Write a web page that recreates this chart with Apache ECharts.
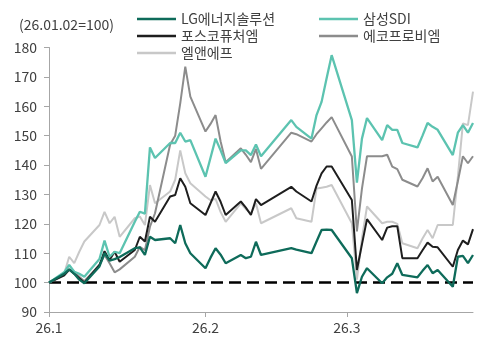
<!DOCTYPE html>
<html>
<head>
<meta charset="utf-8">
<script src="https://cdn.jsdelivr.net/npm/echarts@6/dist/echarts.min.js"></script>
<style>
  html, body { margin: 0; padding: 0; background: #fff; }
  #chart { width: 500px; height: 345px; }
</style>
</head>
<body>
<div id="chart"></div>
<script>
// 거래일 (26.01.02 = 100)
const dates = [
  "2026-01-02", "2026-01-05", "2026-01-06", "2026-01-07", "2026-01-08", "2026-01-09",
  "2026-01-12", "2026-01-13", "2026-01-14", "2026-01-15", "2026-01-16",
  "2026-01-19", "2026-01-20", "2026-01-21", "2026-01-22", "2026-01-23",
  "2026-01-26", "2026-01-27", "2026-01-28", "2026-01-29", "2026-01-30",
  "2026-02-02", "2026-02-03", "2026-02-04", "2026-02-05", "2026-02-06",
  "2026-02-09", "2026-02-10", "2026-02-11", "2026-02-12", "2026-02-13",
  "2026-02-19", "2026-02-20",
  "2026-02-23", "2026-02-24", "2026-02-25", "2026-02-26", "2026-02-27",
  "2026-03-03", "2026-03-04", "2026-03-05", "2026-03-06",
  "2026-03-09", "2026-03-10", "2026-03-11", "2026-03-12", "2026-03-13",
  "2026-03-16", "2026-03-17", "2026-03-18", "2026-03-19", "2026-03-20",
  "2026-03-23", "2026-03-24", "2026-03-25", "2026-03-26", "2026-03-27"
];

const lgES = [
  100, 103, 104.5, 103, 101, 99.8, 105.5, 110, 107.5, 108, 108.7, 111.7, 112, 109.4, 115.6, 114.5, 115.1, 113.4, 119.6, 113.4, 110,
  104.9, 108.5, 111.7, 109.5, 106.6, 109.4, 108.3, 108.8, 113.9, 109.4, 111.7, 111.2, 110, 114, 117.9, 118, 117.9,
  108.3, 96.4, 102, 104.9, 99.8, 101.8, 103, 106.6, 102.6, 101.8, 104, 106, 103.2, 104.3, 98.6, 108.8, 109.1, 106.6, 109.4
];
const samsungSDI = [
  100, 103.5, 106, 103.7, 103, 102, 108, 114.3, 108.8, 110.5, 110, 120.7, 124.1, 123.5, 146, 142.4, 147.5, 147.5, 151, 148, 148.5,
  136, 142.5, 149, 145, 140.7, 145, 145, 143.4, 147, 143, 155.3, 153, 149, 157, 161.5, 169.5, 177.4,
  155.3, 134, 149, 156, 148.5, 153.6, 152, 152, 147.5, 146, 150, 154.3, 153, 152, 143.4, 151, 153.6, 151, 154.3
];
const poscoFM = [
  100, 102.5, 104.5, 103, 101.5, 100, 106, 110.7, 107.7, 110.5, 107.1, 111.1, 115.6, 114, 122.4, 120.7, 129.3, 129.8, 135.5, 132.6, 127,
  123, 127, 131, 127.5, 123, 127.6, 125.5, 123, 128.4, 126.4, 132.6, 131, 127.6, 133, 137.2, 139.5, 139.5,
  128.1, 104.3, 113, 121.6, 114.5, 118.7, 119.2, 119.2, 108.3, 108.3, 111, 113.6, 112.2, 112, 105.4, 111.1, 114.3, 113, 118.2
];
const ecoproBM = [
  100, 102.5, 104.3, 103.7, 102, 100.5, 106, 109.4, 106.6, 103.5, 104.5, 108.8, 112.2, 111, 119, 123.6, 147, 150, 161, 173.5, 163.3,
  151.4, 154, 157, 148, 141, 145.7, 143.5, 141, 145.5, 138.7, 151, 150.5, 148, 150.5, 152.5, 154.5, 156.3,
  142.9, 117.4, 132, 143, 143, 143.5, 139.5, 138.6, 135, 132.7, 135.5, 138.9, 134.4, 136, 126.4, 134.5, 143, 140.6, 143
];
const lnf = [
  100, 103, 108.8, 106.6, 110.5, 114, 119.6, 124.1, 120.2, 122.4, 115.6, 121.9, 122.5, 119.6, 133.2, 127, 131, 135, 145, 137.2, 133.8,
  129.3, 128, 128.5, 124, 120.7, 127, 125, 123.6, 127, 120.2, 125.3, 121.9, 120.7, 132, 132.3, 132.6, 133.2,
  120.2, 101, 115, 125.9, 120.2, 120.7, 120.7, 120, 113.4, 111.7, 115, 117.9, 115.1, 119.6, 119.6, 136, 154.2, 153.6, 165
];

const baseLine = 100;
const xTickDates = ["2026-01-02", "2026-02-02", "2026-03-02"];
const xTickLabels = ["26.1", "26.2", "26.3"];
const xEndDate = "2026-03-27";
const yTicks = [90, 100, 110, 120, 130, 140, 150, 160, 170, 180];

// 날짜 -> 기준일로부터 일수
const day0 = Date.parse(dates[0]);
const toDay = (d) => Math.round((Date.parse(d) - day0) / 86400000);
const xs = dates.map(toDay);
const tickDays = xTickDates.map(toDay);
const pairs = (vals) => vals.map((v, i) => [xs[i], v]);

const FONT = "'Noto Sans CJK KR', 'Noto Sans', sans-serif";
const TXT = "#404040";

const chart = echarts.init(document.getElementById("chart"));

function line(name, vals, color, width) {
  return {
    name: name,
    type: "line",
    data: pairs(vals),
    symbol: "none",
    lineStyle: { color: color, width: width },
    itemStyle: { color: color },
  };
}

chart.setOption({
  animation: false,
  title: {
    text: "(26.01.02=100)",
    left: 19,
    top: 18,
    padding: 0,
    textStyle: { fontFamily: FONT, fontSize: 14, fontWeight: "normal", color: TXT },
  },
  legend: [
    {
      left: 137,
      top: 12,
      orient: "vertical",
      padding: 0,
      itemGap: 3,
      itemWidth: 39,
      itemHeight: 2.5,
      icon: "rect",
      textStyle: { fontFamily: FONT, fontSize: 14, color: TXT },
      data: ["LG에너지솔루션", "포스코퓨처엠", "엘앤에프"],
    },
    {
      left: 319,
      top: 12,
      orient: "vertical",
      padding: 0,
      itemGap: 3,
      itemWidth: 39,
      itemHeight: 2.5,
      icon: "rect",
      textStyle: { fontFamily: FONT, fontSize: 14, color: TXT },
      data: ["삼성SDI", "에코프로비엠"],
    },
  ],
  grid: { left: 49, right: 27, top: 47.5, bottom: 33 },
  xAxis: {
    type: "value",
    min: 0,
    max: toDay(xEndDate),
    axisLine: { onZero: false, lineStyle: { color: "#a6a6a6", width: 1 } },
    axisTick: { show: true, length: 5, customValues: tickDays, lineStyle: { color: "#a6a6a6" } },
    axisLabel: {
      customValues: tickDays,
      margin: 9,
      fontFamily: FONT,
      fontSize: 14,
      color: TXT,
      formatter: (v) => xTickLabels[tickDays.indexOf(v)] || "",
    },
    splitLine: { show: false },
  },
  yAxis: {
    type: "value",
    min: yTicks[0],
    max: yTicks[yTicks.length - 1],
    interval: 10,
    axisLine: { show: true, onZero: false, lineStyle: { color: "#a6a6a6", width: 1 } },
    axisTick: { show: true, length: 5, lineStyle: { color: "#a6a6a6" } },
    axisLabel: { margin: 12, fontFamily: FONT, fontSize: 14, color: TXT },
    splitLine: { show: false },
  },
  series: [
    {
      name: "기준",
      type: "line",
      data: [[0, baseLine], [toDay(xEndDate), baseLine]],
      symbol: "none",
      silent: true,
      lineStyle: { color: "#000", width: 2.5, type: [12, 6] },
      z: 1,
    },
    line("엘앤에프", lnf, "#c8c8c8", 2),
    line("에코프로비엠", ecoproBM, "#8c8c8c", 2),
    line("포스코퓨처엠", poscoFM, "#1e1e1e", 2),
    line("삼성SDI", samsungSDI, "#5cc3b0", 2.3),
    line("LG에너지솔루션", lgES, "#0e6b5a", 2.3),
  ],
});
</script>
</body>
</html>
